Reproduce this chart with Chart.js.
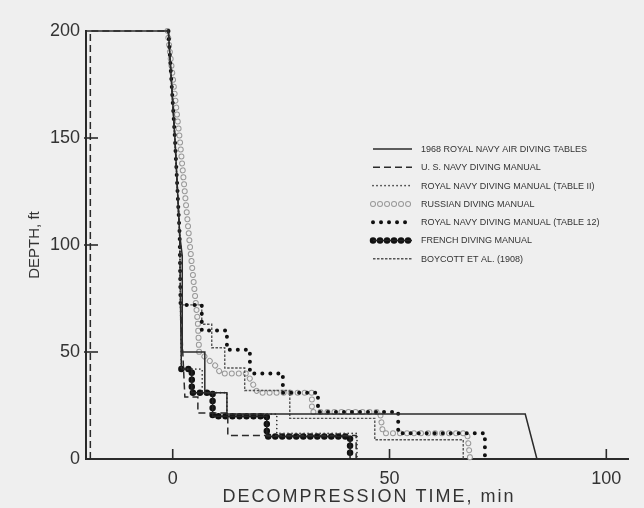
<!DOCTYPE html>
<html>
<head>
<meta charset="utf-8">
<script src="https://cdn.jsdelivr.net/npm/chart.js@4.4.1/dist/chart.umd.min.js"></script>
<style>
  html, body { margin: 0; padding: 0; background: #efefef; }
  canvas { display: block; }
</style>
</head>
<body>
<canvas id="decoChart" width="644" height="508"></canvas>
<script>
// Decompression profiles: time in min (0 = end of bottom time), depth in ft
// most ascents run down under the Table 12 dots before leaving for the first stop
const rnAirTime   = [-20, -20, -1, 0.5, 1.6, 2.2, 2.2, 7.4, 7.4, 12.5, 12.5, 81.3, 84];
const rnAirDepth  = [0, 200, 200, 150, 105, 95, 50, 50, 31, 31, 21, 21, 0];

const usnTime     = [-19, -19, -1, 0.5, 1.6, 1.8, 2.8, 5.8, 5.8, 12.7, 12.7, 42.3, 42.3];
const usnDepth    = [0, 200, 200, 150, 105, 72, 29, 29, 21.5, 21.5, 11, 11, 0];

const rn11Time    = [-1, 0.5, 1.6, 1.8, 2, 6.8, 6.8, 12.5, 12.5, 24, 24, 42.5, 42.5];
const rn11Depth   = [200, 150, 105, 72, 42, 42, 31, 31, 21, 21, 12, 12, 0];

const russTime    = [-1.2, 1.6, 3.9, 5.8, 6.1, 10.2, 11, 17.1, 19.6, 32.1, 32.1, 47.8, 48.5, 67.9, 68.6];
const russDepth   = [200, 150, 101, 63.5, 50, 43, 40, 40, 31, 31, 22, 22, 12, 12, 0];

const rn12Time    = [-1, 0.5, 1.6, 1.8, 6.7, 6.7, 12.5, 12.5, 17.8, 17.8, 25.4, 25.4, 33.5, 33.5, 52, 52, 72, 72];
const rn12Depth   = [200, 150, 105, 72, 72, 60, 60, 51, 51, 40, 40, 31, 31, 22, 22, 12, 12, 0];

const frenchTime  = [-1, 0.5, 1.6, 1.8, 2, 4.4, 4.4, 9.2, 9.2, 21.7, 21.7, 40.9, 40.9];
const frenchDepth = [200, 150, 105, 72, 42, 42, 31, 31, 20, 20, 10.5, 10.5, 0];

const boycTime    = [-1, 0.5, 1.6, 1.8, 6.7, 6.7, 9, 9, 12, 12, 16.6, 16.6, 27, 27, 46.6, 46.6, 67, 67];
const boycDepth   = [200, 150, 105, 72, 72, 63, 63, 52, 52, 42.5, 42.5, 32, 32, 19, 19, 9, 9, 0];

const xTicks = [0, 50, 100];
const yTicks = [0, 50, 100, 150, 200];

const legendLabels = [
  '1968 ROYAL NAVY AIR DIVING TABLES',
  'U. S. NAVY DIVING MANUAL',
  'ROYAL NAVY DIVING MANUAL (TABLE II)',
  'RUSSIAN DIVING MANUAL',
  'ROYAL NAVY DIVING MANUAL (TABLE 12)',
  'FRENCH DIVING MANUAL',
  'BOYCOTT ET AL. (1908)'
];

const ink = '#2b2b2b';
const paper = '#efefef';
const fontFamily = '"Liberation Sans", Arial, sans-serif';

function pts(times, depths) {
  return times.map((t, i) => ({ x: t, y: depths[i] }));
}

// first dataset is drawn on top
const datasets = [
  { data: pts(rnAirTime, rnAirDepth), borderColor: ink, borderWidth: 1.5, row: 0 },
  { data: pts(usnTime, usnDepth), borderColor: ink, borderWidth: 1.5, borderDash: [7, 4], row: 1 },
  { data: pts(rn11Time, rn11Depth), borderColor: '#333', borderWidth: 1.7, borderDash: [0.01, 4], borderCapStyle: 'round', row: 2 },
  { data: pts(rn12Time, rn12Depth), borderColor: '#111', borderWidth: 4, borderDash: [0.01, 8], borderCapStyle: 'round', row: 4 },
  { data: pts(frenchTime.slice(3), frenchDepth.slice(3)), borderColor: '#222', borderWidth: 1.5, row: 5 },
  // diamonds start at the first stop
  { data: pts(frenchTime.slice(4), frenchDepth.slice(4)), borderColor: '#111', borderWidth: 6.5, borderDash: [0.01, 7], borderCapStyle: 'round', row: 5 },
  { data: pts(boycTime, boycDepth), borderColor: '#555', borderWidth: 1.4, borderDash: [2.5, 1.5], row: 6 },
  { data: pts(russTime, russDepth), borderColor: paper, borderWidth: 4, borderDash: [0.01, 7], borderCapStyle: 'round', row: 3 },
  { data: pts(russTime, russDepth), borderColor: '#9a9a9a', borderWidth: 6, borderDash: [0.01, 7], borderCapStyle: 'round', row: 3 }
];
datasets.forEach(ds => {
  ds.showLine = true;
  ds.pointRadius = 0;
  ds.fill = false;
  ds.clip = false;
  ds.borderJoinStyle = 'miter';
});

// paper background, inner tick marks, x title and legend
const extras = {
  id: 'extras',
  beforeDraw(chart) {
    const ctx = chart.ctx;
    ctx.save();
    ctx.fillStyle = paper;
    ctx.fillRect(0, 0, chart.width, chart.height);
    ctx.restore();
  },
  afterDraw(chart) {
    const ctx = chart.ctx;
    const xs = chart.scales.x, ys = chart.scales.y;
    ctx.save();
    ctx.strokeStyle = ink;
    ctx.lineWidth = 1.6;
    ctx.setLineDash([]);
    yTicks.slice(1, 4).forEach(v => {
      const y = ys.getPixelForValue(v);
      ctx.beginPath();
      ctx.moveTo(xs.left - 2, y);
      ctx.lineTo(xs.left + 12, y);
      ctx.stroke();
    });
    xTicks.forEach(v => {
      const x = xs.getPixelForValue(v);
      ctx.beginPath();
      ctx.moveTo(x, ys.bottom);
      ctx.lineTo(x, ys.bottom - 10);
      ctx.stroke();
    });

    // x axis title, spaced out like the original lettering
    ctx.fillStyle = '#333';
    ctx.font = '18px ' + fontFamily;
    ctx.letterSpacing = '2px';
    ctx.textAlign = 'center';
    ctx.textBaseline = 'middle';
    ctx.fillText('DECOMPRESSION TIME, min', 369, 497);
    ctx.letterSpacing = '0px';
    ctx.textAlign = 'left';

    // legend
    const x1 = 373, x2 = 412, top = 149, step = 18.3;
    for (let i = chart.data.datasets.length - 1; i >= 0; i--) {
      const ds = chart.data.datasets[i];
      const y = top + ds.row * step;
      ctx.strokeStyle = ds.borderColor;
      ctx.lineWidth = ds.borderWidth;
      ctx.lineCap = ds.borderCapStyle || 'butt';
      ctx.setLineDash(ds.borderDash || []);
      ctx.beginPath();
      ctx.moveTo(x1, y);
      ctx.lineTo(x2, y);
      ctx.stroke();
    }
    ctx.setLineDash([]);
    ctx.fillStyle = '#333';
    ctx.font = '9px ' + fontFamily;
    legendLabels.forEach((txt, i) => {
      ctx.fillText(txt, 421, top + i * step + 0.5);
    });
    ctx.restore();
  }
};

const tickFont = { family: fontFamily, size: 18 };

new Chart(document.getElementById('decoChart'), {
  type: 'scatter',
  data: { datasets: datasets },
  plugins: [extras],
  options: {
    responsive: false,
    animation: false,
    devicePixelRatio: 1,
    layout: { padding: { top: 31, right: 16, left: 0, bottom: 0 } },
    plugins: { legend: { display: false }, tooltip: { enabled: false } },
    elements: { line: { tension: 0 } },
    scales: {
      x: {
        type: 'linear',
        min: -20,
        max: 105,
        grid: { display: false, drawTicks: false },
        border: { display: true, color: ink, width: 2 },
        afterBuildTicks: s => { s.ticks = xTicks.map(v => ({ value: v })); },
        afterFit: s => { s.height = 49; },
        ticks: { font: tickFont, color: '#333', padding: 9, maxRotation: 0 }
      },
      y: {
        type: 'linear',
        min: 0,
        max: 200,
        grid: { display: false, drawTicks: false },
        border: { display: true, color: ink, width: 2 },
        afterBuildTicks: s => { s.ticks = yTicks.map(v => ({ value: v })); },
        afterFit: s => { s.width = 86; },
        ticks: { font: tickFont, color: '#333', padding: 6 },
        title: {
          display: true,
          text: 'DEPTH, ft',
          font: { family: fontFamily, size: 15 },
          color: '#333',
          padding: { top: 26, bottom: 0 }
        }
      }
    }
  }
});
</script>
</body>
</html>
